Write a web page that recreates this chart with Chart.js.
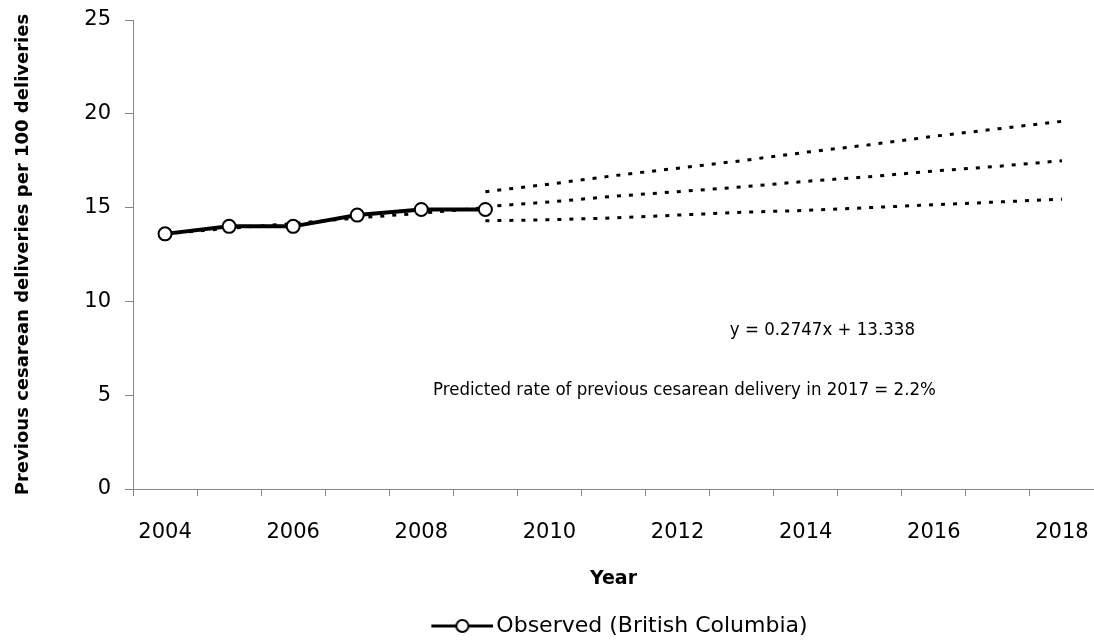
<!DOCTYPE html>
<html>
<head>
<meta charset="utf-8">
<script src="https://cdn.jsdelivr.net/npm/chart.js@4"></script>
<style>
  html, body { margin: 0; padding: 0; background: #fff; overflow: hidden; }
  #wrap { width: 1094px; height: 642px; }
</style>
</head>
<body>
<div id="wrap"><canvas id="rateChart"></canvas></div>
<script>
// years on the x axis (every other one gets a label)
const years = ["2004","2005","2006","2007","2008","2009","2010","2011","2012","2013","2014","2015","2016","2017","2018"];

// observed BC rate, per 100 deliveries
const observed = [13.6, 14.0, 14.0, 14.6, 14.9, 14.9, null, null, null, null, null, null, null, null, null];

// linear fit over observed years
const trend = [13.6, 13.9, 14.15, 14.45, 14.7, 15.0, null, null, null, null, null, null, null, null, null];

// projections 2009-2018
const projHigh = [null, null, null, null, null, 15.85, 16.25, 16.7, 17.1, 17.5, 17.95, 18.35, 18.8, 19.2, 19.6];
const projMid  = [null, null, null, null, null, 15.05, 15.3, 15.6, 15.85, 16.1, 16.4, 16.65, 16.95, 17.2, 17.5];
const projLow  = [null, null, null, null, null, 14.3, 14.35, 14.45, 14.6, 14.75, 14.85, 15.0, 15.15, 15.3, 15.45];

const eqText = "y = 0.2747x + 13.338";
const noteText = "Predicted rate of previous cesarean delivery in 2017 = 2.2%";

const axisGrey = "#868686";
const baseFont = "'DejaVu Sans', sans-serif";

// legend icon: line with open circle, like the excel legend
// (20px of empty space on the left nudges the legend right a bit)
const icon = document.createElement("canvas");
icon.width = 82; icon.height = 16;
(function(){
    const c = icon.getContext("2d");
    c.strokeStyle = "#000";
    c.lineWidth = 3;
    c.beginPath(); c.moveTo(20, 8); c.lineTo(82, 8); c.stroke();
    c.fillStyle = "#fff";
    c.lineWidth = 2;
    c.beginPath(); c.arc(51, 8, 6, 0, Math.PI * 2); c.fill(); c.stroke();
})();

function dotted(label, data){
    return {
        label: label,
        data: data,
        borderColor: "#000",
        borderWidth: 3,
        borderDash: [4, 8],
        pointRadius: 0,
        fill: false,
        spanGaps: false,
        order: 2
    };
}

const notes = {
    id: "notes",
    afterDraw(chart){
        const ctx = chart.ctx;
        ctx.save();
        ctx.fillStyle = "#000";
        ctx.textBaseline = "middle";
        ctx.font = "18.5px 'DejaVu Sans Condensed', " + baseFont;
        ctx.textAlign = "right";
        ctx.fillText(eqText, 915, 330);
        ctx.textAlign = "left";
        ctx.fillText(noteText, 433, 390);
        ctx.restore();
    }
};

new Chart("rateChart", {
    type: "line",
    data: {
        labels: years,
        datasets: [
            {
                label: "Observed (British Columbia)",
                data: observed,
                borderColor: "#000",
                borderWidth: 4,
                pointRadius: 6.5,
                pointBorderWidth: 2,
                pointBackgroundColor: "#fff",
                pointBorderColor: "#000",
                tension: 0,
                order: 0
            },
            dotted("Linear trend", trend),
            dotted("Upper", projHigh),
            dotted("Middle", projMid),
            dotted("Lower", projLow)
        ]
    },
    options: {
        responsive: true,
        maintainAspectRatio: false,
        animation: false,
        layout: { autoPadding: false, padding: { top: 20, right: 0, bottom: -5, left: 0 } },
        plugins: {
            tooltip: { enabled: false },
            legend: {
                position: "bottom",
                fullSize: false,
                labels: {
                    filter: (item) => item.datasetIndex === 0,
                    usePointStyle: true,
                    pointStyle: icon,
                    pointStyleWidth: 66,
                    color: "#000",
                    padding: 1,
                    font: { family: baseFont, size: 22, lineHeight: 0.9 }
                }
            }
        },
        scales: {
            x: {
                offset: true,
                grid: { offset: true, drawOnChartArea: false, tickLength: 7, color: axisGrey },
                border: { color: axisGrey },
                ticks: {
                    autoSkip: false,
                    maxRotation: 0,
                    padding: 0,
                    color: "#000",
                    font: { family: baseFont, size: 21, lineHeight: 3.52 },
                    callback: function(v, i){ return i % 2 === 0 ? this.getLabelForValue(v) : ""; }
                },
                title: {
                    display: true,
                    text: "Year",
                    color: "#000",
                    font: { family: baseFont, size: 19, weight: "bold" },
                    padding: { top: 0, bottom: 24 }
                },
                afterFit: (s) => { s.height = 125; }
            },
            y: {
                min: 0,
                max: 25,
                ticks: {
                    stepSize: 5,
                    padding: 14,
                    color: "#000",
                    font: { family: baseFont, size: 21, lineHeight: 0.5 }
                },
                grid: { drawOnChartArea: false, tickLength: 8, color: axisGrey },
                border: { color: axisGrey },
                title: {
                    display: true,
                    text: "Previous cesarean deliveries per 100 deliveries",
                    color: "#000",
                    font: { family: baseFont, size: 18, weight: "bold" },
                    padding: { top: 13, bottom: 0 }
                },
                afterFit: (s) => { s.width = 133; }
            }
        }
    },
    plugins: [notes]
});
</script>
</body>
</html>
